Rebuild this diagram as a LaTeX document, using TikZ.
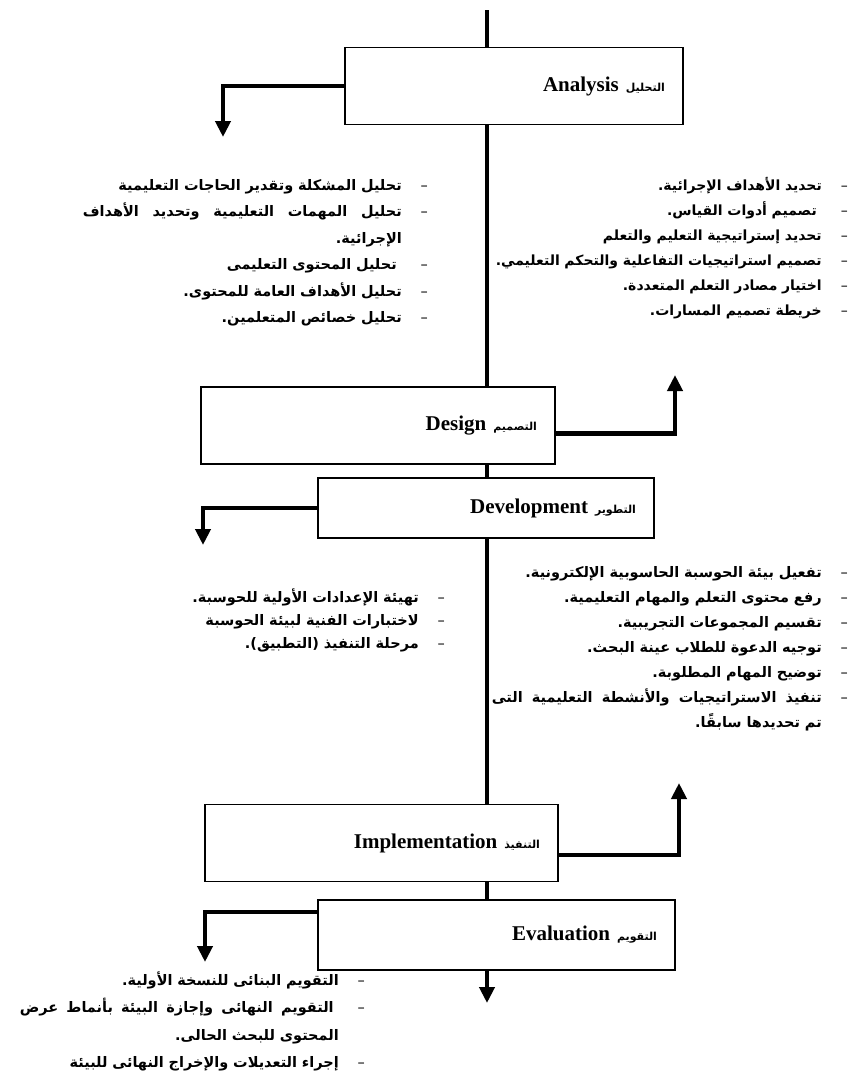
\documentclass[tikz,border=0pt]{standalone}
\usepackage{fontspec}
\setmainfont{Liberation Serif}
\newfontfamily\arabicfont[Script=Arabic]{DejaVu Sans}
\usepackage{tikz}
\usetikzlibrary{arrows.meta}
\usetikzlibrary{positioning}
\TeXXeTstate=1

% Arabic helpers
\newcommand{\arlab}[1]{{\arabicfont\bfseries\fontsize{11}{13}\selectfont\beginR#1\endR}}
\newcommand{\dsh}{\makebox[26pt][r]{\mdseries –}}
\newcommand{\itm}[2][0pt]{\beginR#2\endR\hspace*{#1}\dsh}
\newcommand{\cnt}[1]{\beginR#1\endR\makebox[26pt]{}}
\newcommand{\jst}[2][0pt]{\leavevmode\hbox to \linewidth{\spaceskip=4pt plus 1fil\beginR#2\endR\hspace*{#1}\dsh}}

\begin{document}
\begin{tikzpicture}[
		x=1pt, y=-1pt,
		line join=miter,
		phase/.style={draw, line width=1.3pt, inner xsep=18pt, inner ysep=0pt,
				minimum height=77pt, align=right, font=\bfseries\fontsize{21}{24}\selectfont},
		spine/.style={line width=4.5pt},
		flow/.style={line width=4.5pt, -{Triangle[length=16pt, width=15pt]}},
		items/.style={inner sep=0pt, align=right,
				font=\arabicfont\bfseries\fontsize{14.5}{24}\selectfont}
	]
	\useasboundingbox (0,0) rectangle (862,1074);

	% Phases
	\node[phase, text width=302pt] (ana) at (514,86) {Analysis \arlab{التحليل}};
	\node[phase, text width=318pt] (des) at (378,425.5) {Design \arlab{التصميم}};
	\node[phase, text width=300pt, minimum height=60pt] (dev) at (486,508) {Development \arlab{التطوير}};
	\node[phase, text width=317pt] (imp) at (381.5,843) {Implementation \arlab{التنفيذ}};
	\node[phase, text width=321pt, minimum height=70pt] (eva) at (496.5,935) {Evaluation \arlab{التقويم}};

	% Spine
	\coordinate (top) at (487,10);
	\coordinate (bot) at (487,1003);
	\draw[spine] (top) -- (top |- ana.north);
	\draw[spine] (ana.south -| top) -- (des.north -| top);
	\draw[spine] (des.south -| top) -- (dev.north -| top);
	\draw[spine] (dev.south -| top) -- (imp.north -| top);
	\draw[spine] (imp.south -| top) -- (eva.north -| top);
	\draw[flow] (eva.south -| top) -- (bot);

	% Branch ends
	\coordinate (ta) at (223,137);
	\coordinate (td) at (675,375);
	\coordinate (tv) at (203,545);
	\coordinate (ti) at (679,783);
	\coordinate (te) at (205,962);

	\draw[flow] (ana.west) -| (ta);
	\draw[flow] ([yshift=-8pt]des.east) -| (td);
	\draw[flow] (dev.west) -| (tv);
	\draw[flow] ([yshift=-12pt]imp.east) -| (ti);
	\draw[flow] ([yshift=23pt]eva.west) -| (te);

	% Lists
	\node[items, anchor=base east, text width=345pt, font=\arabicfont\bfseries\fontsize{14.5}{26.5}\selectfont] (la) at (428,190) {%
		\itm{تحليل المشكلة وتقدير الحاجات التعليمية}\\
		\jst{تحليل المهمات التعليمية وتحديد الأهداف}\\
		\cnt{الإجرائية.}\\
		\itm[5pt]{تحليل المحتوى التعليمى}\\
		\itm{تحليل الأهداف العامة للمحتوى.}\\
		\itm{تحليل خصائص المتعلمين.}};

	\node[items, anchor=base east, text width=380pt, font=\arabicfont\bfseries\fontsize{14}{25}\selectfont] (ld) at (848,190) {%
		\itm{تحديد الأهداف الإجرائية.}\\
		\itm[5pt]{تصميم أدوات القياس.}\\
		\itm{تحديد إستراتيجية التعليم والتعلم}\\
		\itm{تصميم استراتيجيات التفاعلية والتحكم التعليمي.}\\
		\itm{اختيار مصادر التعلم المتعددة.}\\
		\itm{خريطة تصميم المسارات.}};

	\node[items, anchor=base east, text width=260pt, font=\arabicfont\bfseries\fontsize{14.5}{23}\selectfont] (lv) at (445,602) {%
		\itm{تهيئة الإعدادات الأولية للحوسبة.}\\
		\itm{لاختبارات الفنية لبيئة الحوسبة}\\
		\itm{مرحلة التنفيذ (التطبيق).}};

	\node[items, anchor=base east, text width=356pt, font=\arabicfont\bfseries\fontsize{14.5}{25}\selectfont] (li) at (848,577) {%
		\itm{تفعيل بيئة الحوسبة الحاسوبية الإلكترونية.}\\
		\itm{رفع محتوى التعلم والمهام التعليمية.}\\
		\itm{تقسيم المجموعات التجريبية.}\\
		\itm{توجيه الدعوة للطلاب عينة البحث.}\\
		\itm{توضيح المهام المطلوبة.}\\
		\jst{تنفيذ الاستراتيجيات والأنشطة التعليمية التى}\\
		\cnt{تم تحديدها سابقًا.}};

	\node[items, anchor=base east, text width=345pt, font=\arabicfont\bfseries\fontsize{14.5}{27.5}\selectfont] (le) at (365,985) {%
		\itm{التقويم البنائى للنسخة الأولية.}\\
		\jst[5pt]{التقويم النهائى وإجازة البيئة بأنماط عرض}\\
		\cnt{المحتوى للبحث الحالى.}\\
		\itm{إجراء التعديلات والإخراج النهائى للبيئة}};
\end{tikzpicture}
\end{document}
